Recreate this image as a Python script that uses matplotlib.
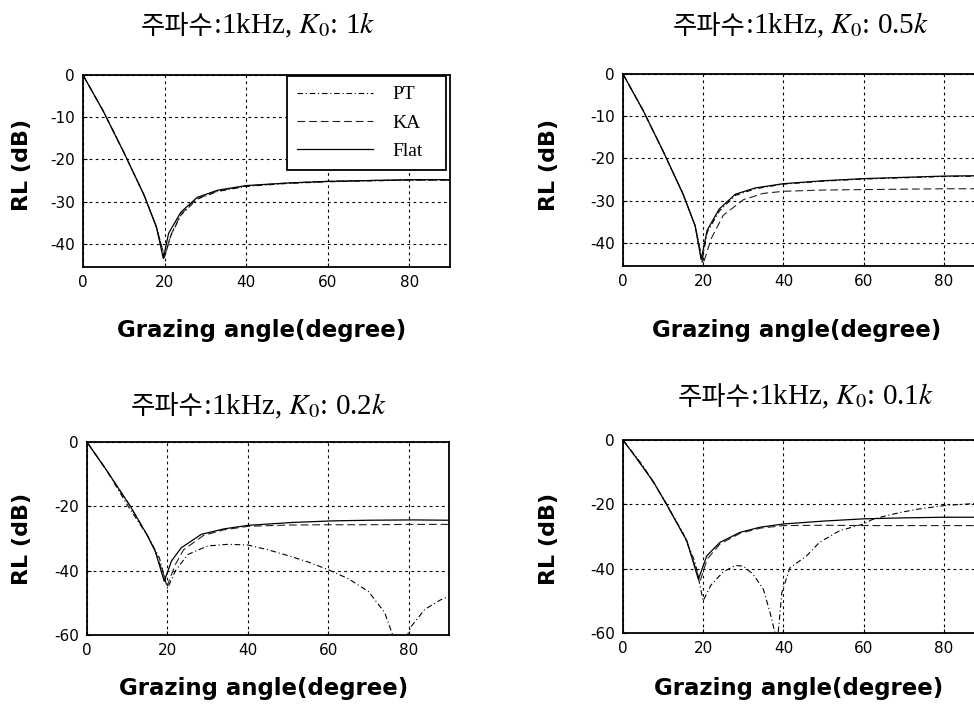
import matplotlib
matplotlib.use("Agg")
import matplotlib.pyplot as plt

plt.rcParams['mathtext.fontset'] = 'stix'
plt.rcParams['axes.unicode_minus'] = False
plt.rcParams['font.family'] = ['DejaVu Sans', 'Noto Sans CJK KR']

# ---- data (grazing angle in degrees, RL in dB) ----
k0_labels = ['1', '0.5', '0.2', '0.1']

# K0 = 1k
flat1_x = [0, 5, 10, 15, 18, 19.7, 21, 24, 28, 33, 40, 50, 60, 70, 80, 90]
flat1_y = [0, -8.6, -18.3, -28.5, -36, -43.5, -37.5, -32.5, -29, -27.3, -26.2, -25.6, -25.2, -25, -24.8, -24.8]
ka1_x = [0, 5, 10, 15, 18, 20, 21.5, 24, 28, 33, 40, 50, 60, 70, 80, 90]
ka1_y = [0, -8.6, -18.3, -28.5, -36, -43, -38, -33, -29.3, -27.5, -26.3, -25.6, -25.2, -25, -24.9, -24.9]
pt1_x = [0, 5, 10, 15, 18, 20, 21.5, 24, 28, 33, 40, 50, 60, 70, 80, 90]
pt1_y = [0, -8.6, -18.3, -28.5, -36, -43.2, -38.2, -33.2, -29.4, -27.6, -26.4, -25.7, -25.3, -25.1, -24.9, -24.9]

# K0 = 0.5k
flat2_x = [0, 5, 10, 15, 18, 19.5, 21, 24, 28, 33, 40, 50, 60, 70, 80, 90]
flat2_y = [0, -8.6, -18.3, -28.5, -36, -44, -37, -32, -28.5, -27, -26, -25.3, -24.8, -24.5, -24.2, -24.1]
ka2_x = [0, 5, 10, 15, 18, 20, 22, 25, 30, 35, 40, 50, 60, 70, 80, 90]
ka2_y = [0, -8.6, -18.3, -28.5, -36, -45, -39, -33.5, -29.8, -28.3, -27.8, -27.5, -27.4, -27.3, -27.2, -27.2]
pt2_x = [0, 5, 10, 15, 18, 19.7, 21, 24, 28, 33, 40, 50, 60, 70, 80, 90]
pt2_y = [0, -8.6, -18.3, -28.5, -36, -44.5, -37.5, -32.5, -28.8, -27.2, -26.1, -25.4, -24.9, -24.6, -24.3, -24.2]

# K0 = 0.2k
flat3_x = [0, 5, 10.8, 15, 17, 19.2, 21, 23.4, 28.4, 34, 40, 51, 61, 70, 81, 90]
flat3_y = [0, -9, -20, -29, -34, -43.3, -37, -32.9, -28.7, -27, -25.9, -25, -24.5, -24.3, -24.2, -24.3]
ka3_x = [0, 5, 10.8, 15, 17, 20, 22, 24, 29, 34, 40, 50, 60, 70, 80, 90]
ka3_y = [0, -9, -20, -29, -34, -44.5, -38, -33.5, -29, -27.3, -26.2, -25.8, -25.7, -25.7, -25.6, -25.6]
pt3_x = [0, 5, 10, 15, 18, 20, 22, 25, 30, 35, 40, 45, 50, 55, 60, 65, 70, 74, 76, 77.5, 79, 80.5, 84, 88, 90]
pt3_y = [0, -9, -19.5, -29, -36, -45.5, -40, -35, -32.3, -31.8, -32, -33.5, -35.3, -37.3, -39.7, -42.5,
         -46.5, -53, -60, -66, -62, -57.5, -52, -49, -48]

# K0 = 0.1k
flat4_x = [0, 3, 7.6, 10.9, 15.9, 18.8, 20.9, 24.2, 29.2, 34.2, 40, 50, 60, 70, 80, 90]
flat4_y = [0, -5, -13, -20.1, -31.3, -43.3, -36, -31.8, -28.7, -27.1, -26.1, -25.2, -24.5, -24.2, -24, -24]
ka4_x = [0, 3, 7.6, 10.9, 15.9, 19.2, 21, 24.2, 29.2, 34.2, 40, 50, 60, 70, 80, 90]
ka4_y = [0, -5, -13, -20.1, -31.3, -44, -37, -32.3, -29, -27.4, -26.6, -26.5, -26.6, -26.6, -26.6, -26.6]
pt4_x = [0, 5, 10, 15, 18, 20, 22, 25, 28, 30, 32.5, 35, 36.7, 37.9, 38.4, 39.6, 41.6, 45.8, 49, 54,
         60, 62, 65.7, 70, 74, 80.6, 87, 90]
pt4_y = [0, -8, -18, -29, -38, -50, -45, -41, -39, -39.2, -41.8, -46.4, -53.8, -60, -64, -47.5, -39.8,
         -36, -31.8, -28.2, -26.1, -24.8, -23.5, -22.3, -21.4, -20.3, -19.8, -19.6]

panels = [
    (flat1_x, flat1_y, ka1_x, ka1_y, pt1_x, pt1_y),
    (flat2_x, flat2_y, ka2_x, ka2_y, pt2_x, pt2_y),
    (flat3_x, flat3_y, ka3_x, ka3_y, pt3_x, pt3_y),
    (flat4_x, flat4_y, ka4_x, ka4_y, pt4_x, pt4_y),
]
x_ticks = [0, 20, 40, 60, 80]
y_ticks_top = [0, -10, -20, -30, -40]
y_ticks_bottom = [0, -20, -40, -60]

# ---- layout (figure fractions) ----
fig = plt.figure(figsize=(9.74, 7.04), dpi=100)
positions = [
    [0.0852, 0.6207, 0.3768, 0.2727],
    [0.6396, 0.6222, 0.3706, 0.2727],
    [0.0893, 0.0980, 0.3717, 0.2740],
    [0.6396, 0.1009, 0.3706, 0.2740],
]
title_xy = [(0.2187, 0.952), (0.765, 0.952), (0.2084, 0.412), (0.770, 0.425)]
xlabel_xy = [(0.488, -0.365), (0.482, -0.370), (0.489, -0.311), (0.4875, -0.321)]
ylabel_xy = [(-0.139, 0.531), (-0.177, 0.526), (-0.152, 0.497), (-0.177, 0.487)]

ka_dash = (0, (7, 3.5))
pt_dash = (0, (5, 2.5, 1, 2.5))

for i, (fx, fy, kx, ky, px, py) in enumerate(panels):
    ax = fig.add_axes(positions[i])
    ax.plot(px, py, color='black', lw=0.8, linestyle=pt_dash, label='PT')
    ax.plot(kx, ky, color='#222222', lw=0.8, linestyle=ka_dash, label='KA')
    ax.plot(fx, fy, color='black', lw=0.9, label='Flat')

    ax.set_xlim(0, 90)
    if i < 2:
        ax.set_ylim(-45.5, 0)
        ax.set_yticks(y_ticks_top)
    else:
        ax.set_ylim(-60, 0)
        ax.set_yticks(y_ticks_bottom)
    ax.set_xticks(x_ticks)
    ax.grid(True, color='black', linestyle=(0, (2.5, 3)), linewidth=0.8)
    ax.tick_params(direction='in', length=3, labelsize=11, pad=6)
    for s in ax.spines.values():
        s.set_linewidth(1.3)

    ax.set_xlabel('Grazing angle(degree)', fontsize=16.5, fontweight='bold')
    ax.xaxis.set_label_coords(*xlabel_xy[i])
    ax.xaxis.label.set_verticalalignment('baseline')
    ax.set_ylabel('RL (dB)', fontsize=16, fontweight='bold')
    ax.yaxis.set_label_coords(*ylabel_xy[i])

    tx, ty = title_xy[i]
    fig.text(tx, ty, '주파수', ha='right', va='baseline', fontsize=19,
             family=['Noto Sans CJK KR'])
    fig.text(tx, ty, ':1kHz, $K_0$: ' + k0_labels[i] + '$k$', ha='left', va='baseline',
             fontsize=21, family=['Liberation Serif'])

    if i == 0:
        leg = ax.legend(loc='upper left', bbox_to_anchor=(0.556, 0.526, 0.433, 0.469),
                        mode='expand', fancybox=False, edgecolor='black', framealpha=1,
                        handlelength=3.9, handletextpad=1.0, labelspacing=0.55,
                        borderpad=0.5, borderaxespad=0,
                        prop={'family': 'Liberation Serif', 'size': 14})
        leg.get_frame().set_linewidth(1.3)

fig.savefig('out.png', dpi=100)
